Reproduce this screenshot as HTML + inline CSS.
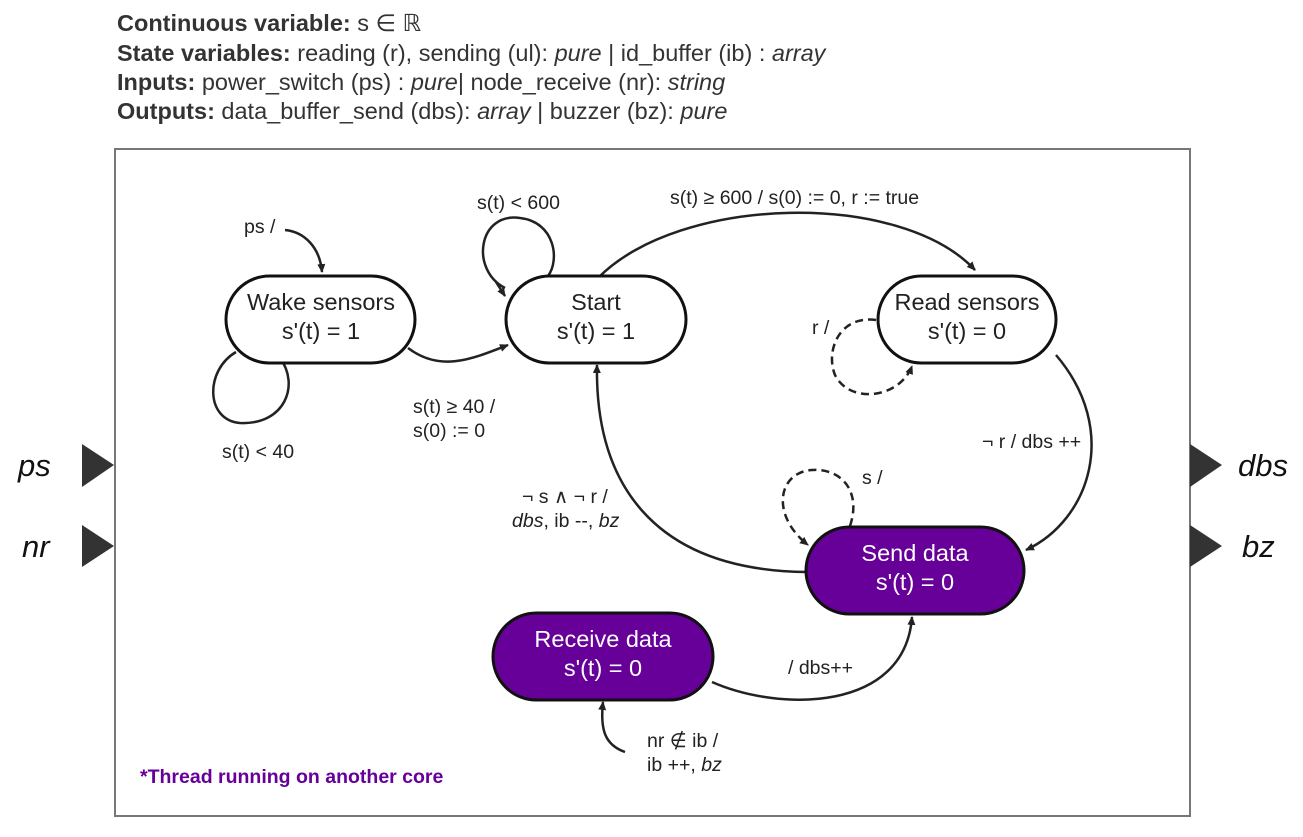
<!DOCTYPE html>
<html><head><meta charset="utf-8"><style>
html,body{margin:0;padding:0;background:#fff;}
svg{display:block;font-family:"Liberation Sans",sans-serif;}
</style></head><body>
<svg width="1303" height="837" viewBox="0 0 1303 837" xmlns="http://www.w3.org/2000/svg">
<defs>
<marker id="a" markerWidth="10" markerHeight="10" refX="8" refY="5" orient="auto" markerUnits="userSpaceOnUse">
<path d="M0,1 L9,5 L0,9 Z" fill="#222"/></marker>
</defs>
<g font-size="23.5" fill="#333">
<text x="117" y="31"><tspan font-weight="bold">Continuous variable:</tspan> s ∈ ℝ</text>
<text x="117" y="61"><tspan font-weight="bold">State variables:</tspan> reading (r), sending (ul): <tspan font-style="italic">pure</tspan>  | id_buffer (ib) : <tspan font-style="italic">array</tspan></text>
<text x="117" y="90"><tspan font-weight="bold">Inputs:</tspan> power_switch (ps) : <tspan font-style="italic">pure</tspan>| node_receive (nr): <tspan font-style="italic">string</tspan></text>
<text x="117" y="119"><tspan font-weight="bold">Outputs:</tspan> data_buffer_send (dbs): <tspan font-style="italic">array</tspan> | buzzer (bz): <tspan font-style="italic">pure</tspan></text>
</g>
<rect x="115" y="149" width="1075" height="667" fill="#fff" stroke="#777" stroke-width="2"/>
<g fill="#333">
<path d="M82,444 L114,465 L82,487Z"/><path d="M82,525 L114,546 L82,567Z"/>
<path d="M1190,444 L1222,465 L1190,487Z"/><path d="M1190,525 L1222,546 L1190,567Z"/>
</g>
<g font-size="31" font-style="italic" fill="#111">
<text x="18" y="476">ps</text><text x="22" y="557">nr</text>
<text x="1238" y="476">dbs</text><text x="1242" y="557">bz</text>
</g>
<g fill="none" stroke="#222" stroke-width="2.5">
<path d="M285,230 C305,232 320,248 322,272" marker-end="url(#a)"/>
<path d="M236,352 C205,370 205,420 240,423 C285,425 300,385 280,358"/>
<path d="M408,348 C440,372 470,360 508,345" marker-end="url(#a)"/>
<path d="M505,288 C470,270 478,212 520,218 C555,222 560,260 548,276"/>
<path d="M496,282 L505,296" marker-end="url(#a)"/>
<path d="M598,278 C680,195 900,190 975,270" marker-end="url(#a)"/>
<path d="M1056,355 C1120,430 1090,520 1026,550" marker-end="url(#a)"/>
<path d="M806,572 C650,570 595,480 597,365" marker-end="url(#a)"/>
<path d="M712,682 C780,712 905,712 912,617" marker-end="url(#a)"/>
<path d="M625,752 C605,745 600,730 603,702" marker-end="url(#a)"/>
</g>
<g fill="none" stroke="#222" stroke-width="2.5" stroke-dasharray="8,5">
<path d="M876,320 C840,315 825,350 835,375 C850,405 900,398 912,366" marker-end="url(#a)"/>
<path d="M850,526 C862,490 840,468 812,470 C778,472 770,515 808,545" marker-end="url(#a)"/>
</g>
<g stroke="#111" stroke-width="3">
<rect x="226" y="276" width="189" height="87" rx="43.5" fill="#fff"/>
<rect x="506" y="276" width="180" height="87" rx="43.5" fill="#fff"/>
<rect x="878" y="276" width="178" height="87" rx="43.5" fill="#fff"/>
<rect x="806" y="527" width="218" height="87" rx="43.5" fill="#660099"/>
<rect x="493" y="613" width="220" height="87" rx="43.5" fill="#660099"/>
</g>
<g font-size="23.5" text-anchor="middle" fill="#222">
<text x="321" y="310">Wake sensors</text><text x="321" y="339">s'(t) = 1</text>
<text x="596" y="310">Start</text><text x="596" y="339">s'(t) = 1</text>
<text x="967" y="310">Read sensors</text><text x="967" y="339">s'(t) = 0</text>
<g fill="#fff"><text x="915" y="561">Send data</text><text x="915" y="590">s'(t) = 0</text>
<text x="603" y="647">Receive data</text><text x="603" y="676">s'(t) = 0</text></g>
</g>
<g font-size="19.5" fill="#222">
<text x="244" y="233">ps /</text>
<text x="222" y="458">s(t) &lt; 40</text>
<text x="413" y="413">s(t) ≥ 40 /</text><text x="413" y="437">s(0) := 0</text>
<text x="477" y="209">s(t) &lt; 600</text>
<text x="670" y="204">s(t) ≥ 600 / s(0) := 0, r := true</text>
<text x="812" y="334">r /</text>
<text x="982" y="448">¬ r / dbs ++</text>
<text x="862" y="484">s /</text>
<text x="522" y="503">¬ s ∧ ¬ r /</text>
<text x="512" y="527"><tspan font-style="italic">dbs</tspan>, ib --, <tspan font-style="italic">bz</tspan></text>
<text x="788" y="674">/ dbs++</text>
<text x="647" y="747">nr ∉ ib  /</text>
<text x="647" y="771">ib ++, <tspan font-style="italic">bz</tspan></text>
</g>
<text x="140" y="783" font-size="19.5" font-weight="bold" fill="#660099">*Thread running on another core</text>
</svg>
</body></html>
